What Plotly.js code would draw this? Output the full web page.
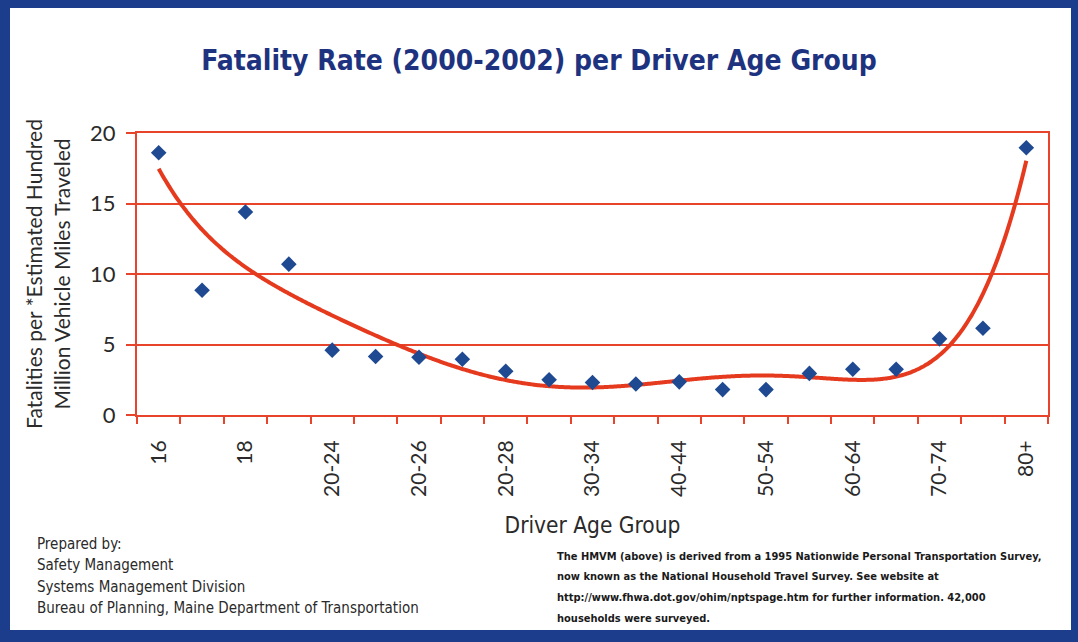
<!DOCTYPE html>
<html>
<head>
<meta charset="utf-8">
<script src="https://cdn.plot.ly/plotly-3.0.1.min.js"></script>
<style>
  html, body { margin: 0; padding: 0; background: #ffffff; }
  #wrap { position: relative; width: 1078px; height: 642px; overflow: hidden; }
  #chart { position: absolute; left: 0; top: 0; width: 1078px; height: 642px; }
  #frame {
    position: absolute; left: 0; top: 0; width: 1078px; height: 642px;
    box-sizing: border-box; pointer-events: none;
    border-left: 10px solid #1b3d8c; border-top: 8px solid #1b3d8c;
    border-right: 7px solid #1b3d8c; border-bottom: 12px solid #1b3d8c;
  }
</style>
</head>
<body>
<div id="wrap">
  <div id="chart"></div>
  <div id="frame"></div>
</div>
<script>
// Driver age groups, in plotting order
const ageGroups = ["16", "17", "18", "19", "20-24", "20-25", "20-26", "20-27", "20-28", "25-29",
                   "30-34", "35-39", "40-44", "45-49", "50-54", "55-59", "60-64", "65-69",
                   "70-74", "75-79", "80+"];

// Fatalities per estimated hundred million vehicle miles traveled, 2000-2002
const fatalityRate = [18.6, 8.85, 14.4, 10.7, 4.6, 4.15, 4.1, 3.95, 3.1, 2.5,
                      2.3, 2.2, 2.35, 1.8, 1.8, 2.95, 3.25, 3.25, 5.4, 6.15, 18.95];

// Every other group gets a printed label on the axis
const labelStep = 2;

// Polynomial trend order
const trendOrder = 6;

// Footnote lines
const preparedBy = ["Prepared by:", "Safety Management", "Systems Management Division",
                    "Bureau of Planning, Maine Department of Transportation"];
const sourceNote = ["The HMVM (above) is derived from a 1995 Nationwide Personal Transportation Survey,",
                    "now known as the National Household Travel Survey. See website at",
                    "http://www.fhwa.dot.gov/ohim/nptspage.htm for further information. 42,000",
                    "households were surveyed."];

const idx = ageGroups.map((_, i) => i);
const tickIdx = idx.filter(i => i % labelStep === 0);
const tickText = tickIdx.map(i => ageGroups[i]);
const boundaries = idx.concat([ageGroups.length]).map(i => i - 0.5);

// Least-squares polynomial trend through the rate values
function polyFit(xs, ys, order) {
  const mid = (xs[0] + xs[xs.length - 1]) / 2;
  const half = (xs[xs.length - 1] - xs[0]) / 2;
  const n = order + 1;
  const A = Array.from({length: n}, () => new Array(n + 1).fill(0));
  xs.forEach((x, k) => {
    const t = (x - mid) / half;
    const pw = [];
    for (let p = 0; p < 2 * n; p++) pw.push(Math.pow(t, p));
    for (let r = 0; r < n; r++) {
      for (let c = 0; c < n; c++) A[r][c] += pw[r + c];
      A[r][n] += pw[r] * ys[k];
    }
  });
  for (let c = 0; c < n; c++) {
    let piv = c;
    for (let r = c + 1; r < n; r++) if (Math.abs(A[r][c]) > Math.abs(A[piv][c])) piv = r;
    [A[c], A[piv]] = [A[piv], A[c]];
    for (let r = 0; r < n; r++) {
      if (r === c) continue;
      const f = A[r][c] / A[c][c];
      for (let k = c; k <= n; k++) A[r][k] -= f * A[c][k];
    }
  }
  const coef = A.map((row, r) => row[n] / row[r]);
  return x => {
    const t = (x - mid) / half;
    return coef.reduce((s, a, p) => s + a * Math.pow(t, p), 0);
  };
}

const trend = polyFit(idx, fatalityRate, trendOrder);
const trendX = [];
for (let x = 0; x <= ageGroups.length - 1 + 1e-9; x += 0.05) trendX.push(x);
const trendY = trendX.map(trend);

const W = 1078, H = 642;
const M = {l: 137, r: 30, t: 133, b: 227};
const plotW = W - M.l - M.r, plotH = H - M.t - M.b;
// page pixels -> paper fractions for the footnotes
const px = x => (x - M.l) / plotW;
const py = y => (H - M.b - y) / plotH;

const red = '#e8432b';
const navy = '#1e3380';
const darkText = '#2a2a2a';
const narrow = 'DejaVu Sans Condensed, Liberation Sans Narrow, sans-serif';

const noteAnnotations = [];
preparedBy.forEach((line, i) => {
  noteAnnotations.push({
    xref: 'paper', yref: 'paper', x: px(35), y: py(544 + i * 21.3),
    xanchor: 'left', yanchor: 'middle', showarrow: false, text: line,
    font: {family: narrow, size: 15, color: darkText}
  });
});
sourceNote.forEach((line, i) => {
  noteAnnotations.push({
    xref: 'paper', yref: 'paper', x: px(555), y: py(556 + i * 20.7),
    xanchor: 'left', yanchor: 'middle', showarrow: false, text: line,
    font: {family: narrow, size: 11, color: '#1a1a1a', weight: 'bold'}
  });
});

const traces = [
  {
    x: trendX, y: trendY, type: 'scatter', mode: 'lines',
    line: {color: '#e63a1f', width: 4, shape: 'spline'},
    hoverinfo: 'skip', showlegend: false
  },
  {
    x: idx, y: fatalityRate, type: 'scatter', mode: 'markers',
    text: ageGroups,
    marker: {symbol: 'diamond', size: 12, color: '#1f4a92'},
    showlegend: false
  }
];

const layout = {
  width: W, height: H,
  paper_bgcolor: '#ffffff', plot_bgcolor: '#ffffff',
  margin: M,
  title: {
    text: 'Fatality Rate (2000-2002) per Driver Age Group',
    font: {family: 'DejaVu Sans Condensed, DejaVu Sans, sans-serif', size: 28, color: navy, weight: 'bold'},
    x: 0.5, xanchor: 'center', y: 0.907, yanchor: 'middle'
  },
  xaxis: {
    range: [-0.5, ageGroups.length - 0.5],
    tickmode: 'array', tickvals: tickIdx, ticktext: tickText,
    ticks: '', tickangle: -90, ticklabelstandoff: 15,
    tickfont: {family: 'Lato, sans-serif', size: 21, color: darkText},
    minor: {tickmode: 'array', tickvals: boundaries, ticks: 'outside', ticklen: 7, tickwidth: 2, tickcolor: red, showgrid: false},
    showgrid: false, zeroline: false,
    showline: true, linecolor: red, linewidth: 2, mirror: true,
    title: {
      text: 'Driver Age Group', standoff: 21,
      font: {family: narrow, size: 22.5, color: darkText}
    }
  },
  yaxis: {
    range: [0, 20], tickvals: [0, 5, 10, 15, 20],
    ticks: 'outside', ticklen: 9, tickwidth: 2, tickcolor: red, ticklabelstandoff: 6,
    tickfont: {family: 'Lato, sans-serif', size: 22, color: darkText},
    showgrid: true, gridcolor: red, gridwidth: 2,
    zeroline: true, zerolinecolor: red, zerolinewidth: 2,
    showline: true, linecolor: red, linewidth: 2, mirror: true,
    title: {
      text: 'Fatalities per *Estimated Hundred<br>Million Vehicle Miles Traveled', standoff: 14,
      font: {family: 'Lato, sans-serif', size: 21, color: darkText}
    }
  },
  annotations: noteAnnotations
};

Plotly.newPlot('chart', traces, layout, {displayModeBar: false, staticPlot: true});
</script>
</body>
</html>
